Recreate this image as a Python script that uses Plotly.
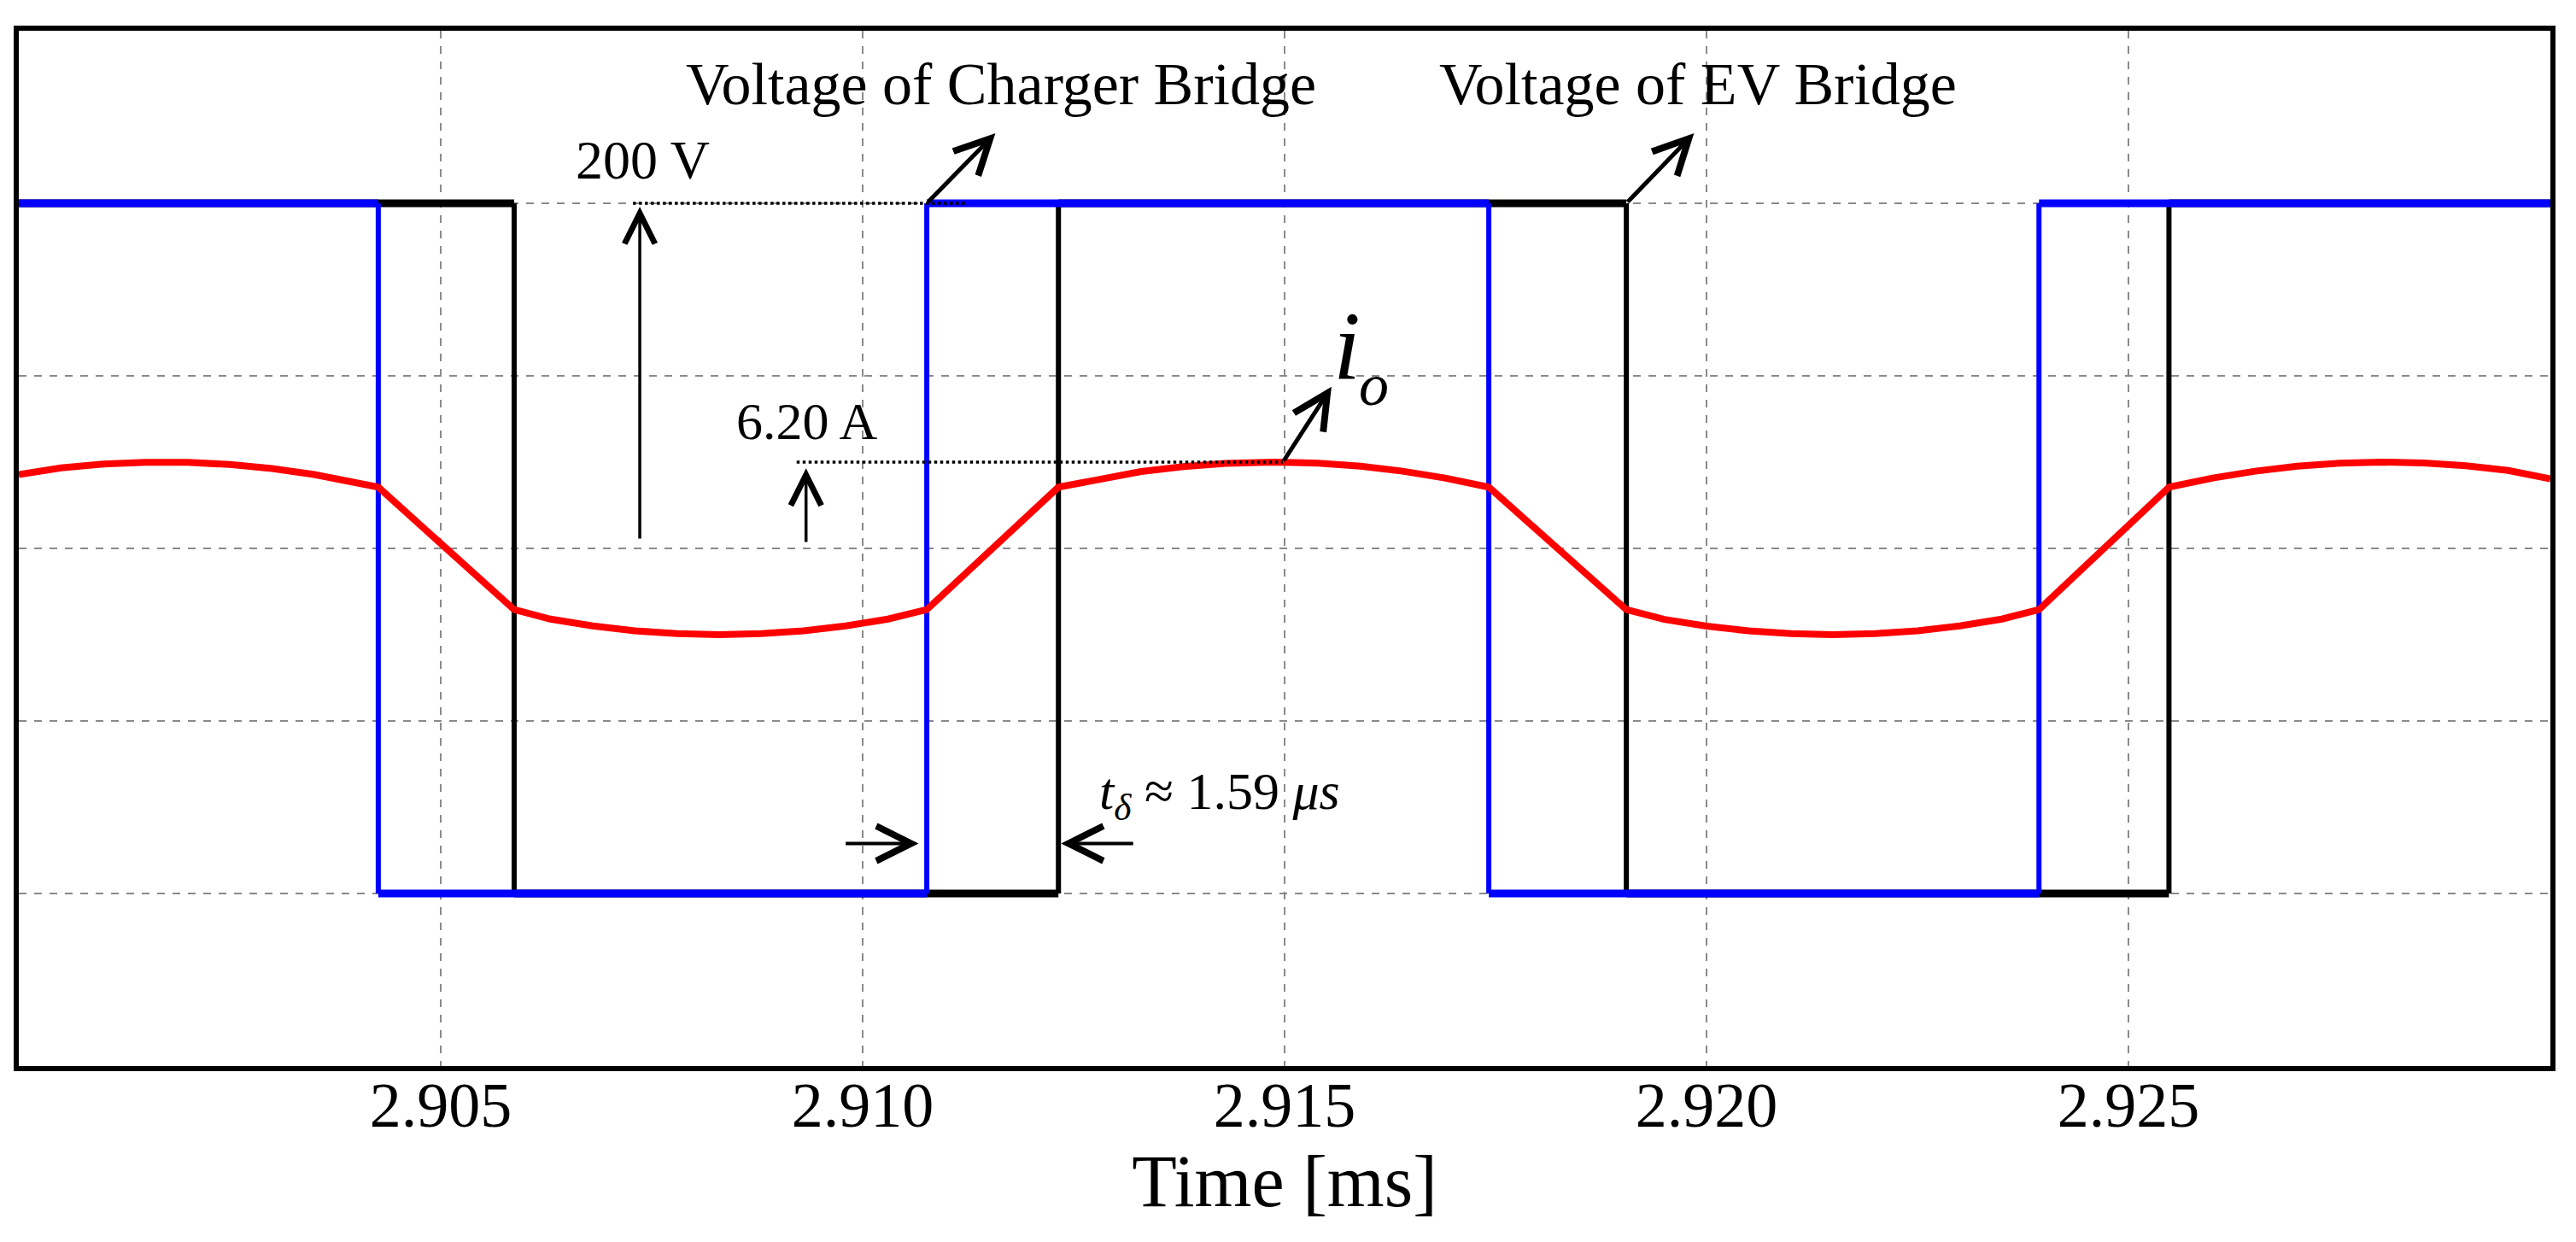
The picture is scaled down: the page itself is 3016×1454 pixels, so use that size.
import plotly.graph_objects as go

# ---------------- data ----------------
T_RANGE = [2.900, 2.930]                      # ms
TICK_VALS = [2.905, 2.910, 2.915, 2.920, 2.925]
TICK_TEXT = ["2.905", "2.910", "2.915", "2.920", "2.925"]

V_LEVEL = 200                                  # V
charger_switch_t = [2.90426, 2.91076, 2.91742, 2.92394]   # ms
charger_levels = [200, -200, 200, -200, 200]   # V
ev_switch_t = [2.90587, 2.91232, 2.91905, 2.92548]        # ms
ev_levels = [200, -200, 200, -200, 200]        # V

current_t = [2.90000, 2.90050, 2.90100, 2.90150, 2.90200, 2.90250, 2.90300, 2.90350,
             2.90426, 2.90587, 2.90630, 2.90680, 2.90730, 2.90780, 2.90830, 2.90880,
             2.90930, 2.90980, 2.91030, 2.91076, 2.91232, 2.91280, 2.91330, 2.91380,
             2.91430, 2.91487, 2.91540, 2.91590, 2.91640, 2.91690, 2.91742, 2.91905,
             2.91950, 2.92000, 2.92050, 2.92100, 2.92149, 2.92200, 2.92250, 2.92300,
             2.92350, 2.92394, 2.92548, 2.92600, 2.92650, 2.92700, 2.92750, 2.92800,
             2.92850, 2.92900, 2.92950, 2.93000]
current_a = [5.30, 5.79, 6.06, 6.19, 6.18, 6.03, 5.74, 5.31,
             4.40, -4.40, -5.08, -5.57, -5.92, -6.13, -6.20, -6.13,
             -5.92, -5.57, -5.08, -4.40, 4.40, 5.01, 5.52, 5.88,
             6.11, 6.20, 6.12, 5.91, 5.55, 5.06, 4.40, -4.40,
             -5.10, -5.59, -5.93, -6.13, -6.20, -6.13, -5.92, -5.57,
             -5.08, -4.40, 4.40, 5.06, 5.55, 5.91, 6.12, 6.20,
             6.14, 5.94, 5.60, 5.00]
I_PEAK = 6.20                                  # A
T_DELTA_US = 1.59

# ---------------- helpers ----------------
def step_segments(switch_t, levels):
    edges = [T_RANGE[0]] + list(switch_t) + [T_RANGE[1]]
    hx, hy, vx, vy = [], [], [], []
    for i, lv in enumerate(levels):
        hx += [edges[i], edges[i + 1], None]
        hy += [lv, lv, None]
    for i, t in enumerate(switch_t):
        vx += [t, t, None]
        vy += [levels[i], levels[i + 1], None]
    return hx, hy, vx, vy

FONT = "Liberation Serif"
GRID = "#8a8a8a"
H_W, V_W = 9, 6

fig = go.Figure()
for (st, lv, col) in [(ev_switch_t, ev_levels, "black"), (charger_switch_t, charger_levels, "#0000ff")]:
    hx, hy, vx, vy = step_segments(st, lv)
    fig.add_trace(go.Scatter(x=vx, y=vy, mode="lines", line=dict(color=col, width=V_W),
                             showlegend=False, hoverinfo="skip"))
    fig.add_trace(go.Scatter(x=hx, y=hy, mode="lines", line=dict(color=col, width=H_W),
                             showlegend=False, hoverinfo="skip"))

fig.add_trace(go.Scatter(x=current_t, y=current_a, mode="lines", yaxis="y2",
                         line=dict(color="#ff0000", width=8), showlegend=False))

# ---------------- annotations ----------------
ann = []
def arrow(x0, y0, x1, y1, yref="y", width=4, size=1.4):
    ann.append(dict(x=x1, y=y1, ax=x0, ay=y0, xref="x", yref=yref, axref="x", ayref=yref,
                    text="", showarrow=True, arrowhead=5, arrowsize=size, arrowwidth=width,
                    arrowcolor="black", standoff=0, startstandoff=0))

def label(x, y, text, size, yref="y", italic=False):
    ann.append(dict(x=x, y=y, xref="x", yref=yref, text=text, showarrow=False,
                    xanchor="left", yanchor="middle",
                    font=dict(family=FONT, size=size, color="black",
                              style="italic" if italic else "normal")))

# 200 V marker
arrow(2.907359, 5, 2.907359, V_LEVEL - 2, width=3.5, size=2.0)
label(2.906580, 225, "200 V", 64)
# Bridge pointers
arrow(charger_switch_t[1], V_LEVEL, 2.911573, 240.6, width=5, size=1.6)
arrow(ev_switch_t[2], V_LEVEL, 2.919852, 240.6, width=5, size=1.6)
label(2.907884, 269, "Voltage of Charger Bridge", 70)
label(2.916809, 269, "Voltage of EV Bridge", 70)
# current pointer
arrow(2.914980, I_PEAK, 2.915556, 11.61, yref="y2", width=5, size=1.6)
label(2.915560, 117, "i", 115, italic=True)
label(2.915860, 94.6, "o", 70, italic=True)
# 6.20 A marker
arrow(2.909329, 0.37, 2.909329, I_PEAK - 0.45, yref="y2", width=3.5, size=2.0)
label(2.908481, 74, "%.2f A" % I_PEAK, 62)
# t_delta markers
arrow(2.909784, -171, 2.910663, -171, width=4, size=2.0)
arrow(2.913221, -171, 2.912351, -171, width=4, size=2.0)
label(2.912786, -142.6, "<i>t</i><sub><i>δ</i></sub> ≈ %.2f <i>μs</i>" % T_DELTA_US, 62)

shapes = [
    dict(type="line", xref="x", yref="y", x0=2.907278, x1=2.911230, y0=V_LEVEL, y1=V_LEVEL,
         line=dict(color="black", width=3.5, dash="dot")),
    dict(type="line", xref="x", yref="y2", x0=2.909218, x1=2.914980, y0=I_PEAK, y1=I_PEAK,
         line=dict(color="black", width=3.5, dash="dot")),
]

axis_common = dict(showline=True, mirror=True, linecolor="black", linewidth=6,
                   showgrid=True, gridcolor=GRID, gridwidth=2, griddash="dash",
                   zeroline=False, ticks="")

fig.update_layout(
    width=2996, height=1434,
    margin=dict(l=14, r=14, t=28, b=194),
    paper_bgcolor="white", plot_bgcolor="white",
    xaxis=dict(range=T_RANGE, tickvals=TICK_VALS, ticktext=TICK_TEXT,
               tickfont=dict(family=FONT, size=74, color="black"),
               ticklabelstandoff=-24,
               title=dict(text="Time [ms]", font=dict(family=FONT, size=86, color="black"), standoff=15),
               **axis_common),
    yaxis=dict(range=[-300, 300], tickvals=[-200, -100, 0, 100, 200], showticklabels=False,
               **axis_common),
    yaxis2=dict(range=[-37.2, 37.2], overlaying="y", visible=False, showgrid=False),
    annotations=ann, shapes=shapes,
    showlegend=False,
)

fig.write_html("out.html")
